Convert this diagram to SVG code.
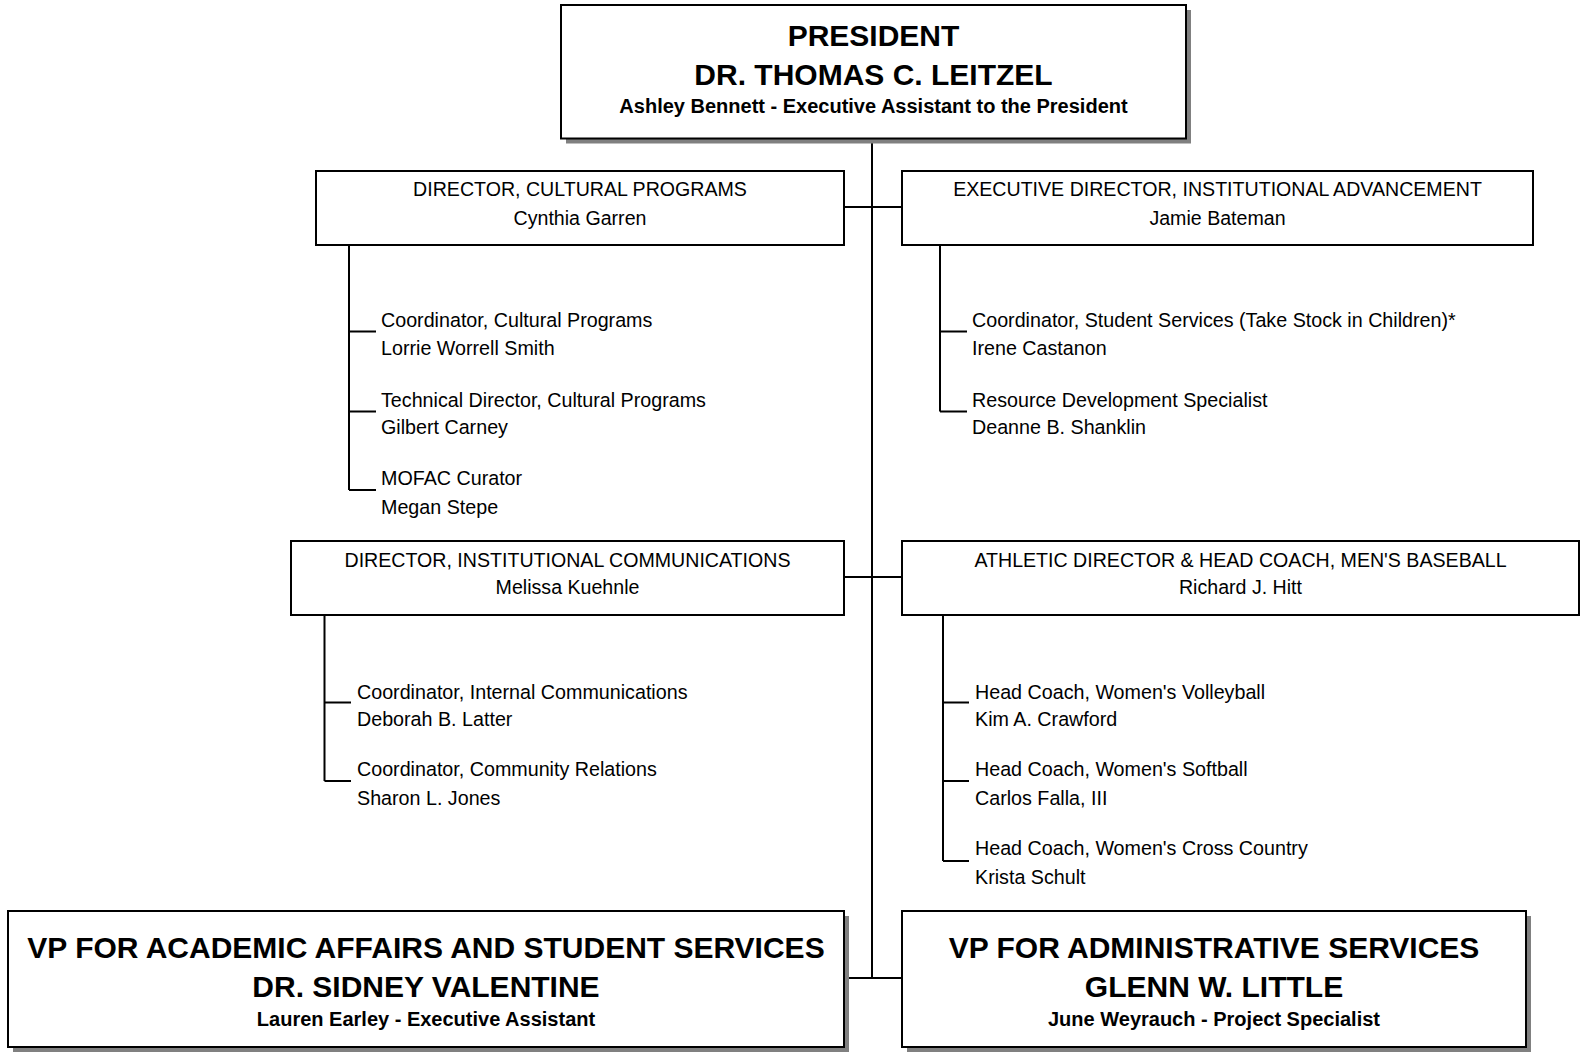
<svg xmlns="http://www.w3.org/2000/svg" width="1585" height="1053" viewBox="0 0 1585 1053">
<style>
.box{fill:#fff;stroke:#000;stroke-width:2}
.shadow{fill:#808080}
.ln{stroke:#000;stroke-width:2;fill:none}
.big{font-family:"Liberation Sans",Arial,sans-serif;font-weight:bold;font-size:30px;text-anchor:middle;fill:#000}
.sub{font-family:"Liberation Sans",Arial,sans-serif;font-weight:bold;font-size:20px;text-anchor:middle;fill:#000}
.dir{font-family:"Liberation Sans",Arial,sans-serif;font-size:19.6px;text-anchor:middle;fill:#000}
.item{font-family:"Liberation Sans",Arial,sans-serif;font-size:19.7px;fill:#000}
</style>
<rect width="1585" height="1053" fill="#fff"/>
<g id="connectors">
<line class="ln" x1="872" y1="138" x2="872" y2="978"/>
<line class="ln" x1="844" y1="207" x2="902" y2="207"/>
<line class="ln" x1="844" y1="577" x2="902" y2="577"/>
<line class="ln" x1="844" y1="978" x2="902" y2="978"/>
<path class="ln" d="M349 245 V490 M349 331.5 H376 M349 411.5 H376 M349 490 H376"/>
<path class="ln" d="M940 245 V411.5 M940 331.5 H967 M940 411.5 H967"/>
<path class="ln" d="M324.5 615 V781 M324.5 702.5 H351 M324.5 781 H351"/>
<path class="ln" d="M943 615 V861 M943 702.5 H969 M943 781 H969 M943 861 H969"/>
</g>
<g id="president">
<rect class="shadow" x="566" y="10" width="625" height="133.5"/>
<rect class="box" x="561" y="5" width="625" height="133.5"/>
<text class="big" x="873.5" y="45.5">PRESIDENT</text>
<text class="big" x="873.5" y="85">DR. THOMAS C. LEITZEL</text>
<text class="sub" x="873.5" y="113">Ashley Bennett - Executive Assistant to the President</text>
</g>
<g id="dir-cultural">
<rect class="box" x="316" y="171" width="528" height="74"/>
<text class="dir" x="580" y="196">DIRECTOR, CULTURAL PROGRAMS</text>
<text class="dir" x="580" y="224.5">Cynthia Garren</text>
</g>
<g id="cultural-staff">
<text class="item" x="381" y="327">Coordinator, Cultural Programs</text>
<text class="item" x="381" y="355">Lorrie Worrell Smith</text>
<text class="item" x="381" y="407">Technical Director, Cultural Programs</text>
<text class="item" x="381" y="434">Gilbert Carney</text>
<text class="item" x="381" y="485">MOFAC Curator</text>
<text class="item" x="381" y="514">Megan Stepe</text>
</g>
<g id="exec-dir-advancement">
<rect class="box" x="902" y="171" width="631" height="74"/>
<text class="dir" x="1217.5" y="196">EXECUTIVE DIRECTOR, INSTITUTIONAL ADVANCEMENT</text>
<text class="dir" x="1217.5" y="224.5">Jamie Bateman</text>
</g>
<g id="advancement-staff">
<text class="item" x="972" y="327">Coordinator, Student Services (Take Stock in Children)*</text>
<text class="item" x="972" y="355">Irene Castanon</text>
<text class="item" x="972" y="407">Resource Development Specialist</text>
<text class="item" x="972" y="434">Deanne B. Shanklin</text>
</g>
<g id="dir-communications">
<rect class="box" x="291" y="541" width="553" height="74"/>
<text class="dir" x="567.5" y="567">DIRECTOR, INSTITUTIONAL COMMUNICATIONS</text>
<text class="dir" x="567.5" y="594">Melissa Kuehnle</text>
</g>
<g id="communications-staff">
<text class="item" x="357" y="698.5">Coordinator, Internal Communications</text>
<text class="item" x="357" y="726">Deborah B. Latter</text>
<text class="item" x="357" y="776">Coordinator, Community Relations</text>
<text class="item" x="357" y="804.5">Sharon L. Jones</text>
</g>
<g id="athletic-director">
<rect class="box" x="902" y="541" width="677" height="74"/>
<text class="dir" x="1240.5" y="567">ATHLETIC DIRECTOR &amp; HEAD COACH, MEN'S BASEBALL</text>
<text class="dir" x="1240.5" y="594">Richard J. Hitt</text>
</g>
<g id="athletic-staff">
<text class="item" x="975" y="698.5">Head Coach, Women's Volleyball</text>
<text class="item" x="975" y="726">Kim A. Crawford</text>
<text class="item" x="975" y="776">Head Coach, Women's Softball</text>
<text class="item" x="975" y="804.5">Carlos Falla, III</text>
<text class="item" x="975" y="855">Head Coach, Women's Cross Country</text>
<text class="item" x="975" y="883.5">Krista Schult</text>
</g>
<g id="vp-academic">
<rect class="shadow" x="13" y="916" width="836" height="136"/>
<rect class="box" x="8" y="911" width="836" height="136"/>
<text class="big" x="426" y="958">VP FOR ACADEMIC AFFAIRS AND STUDENT SERVICES</text>
<text class="big" x="426" y="997">DR. SIDNEY VALENTINE</text>
<text class="sub" x="426" y="1026">Lauren Earley - Executive Assistant</text>
</g>
<g id="vp-administrative">
<rect class="shadow" x="907" y="916" width="624" height="136"/>
<rect class="box" x="902" y="911" width="624" height="136"/>
<text class="big" x="1214" y="958">VP FOR ADMINISTRATIVE SERVICES</text>
<text class="big" x="1214" y="997">GLENN W. LITTLE</text>
<text class="sub" x="1214" y="1026">June Weyrauch - Project Specialist</text>
</g>
</svg>
